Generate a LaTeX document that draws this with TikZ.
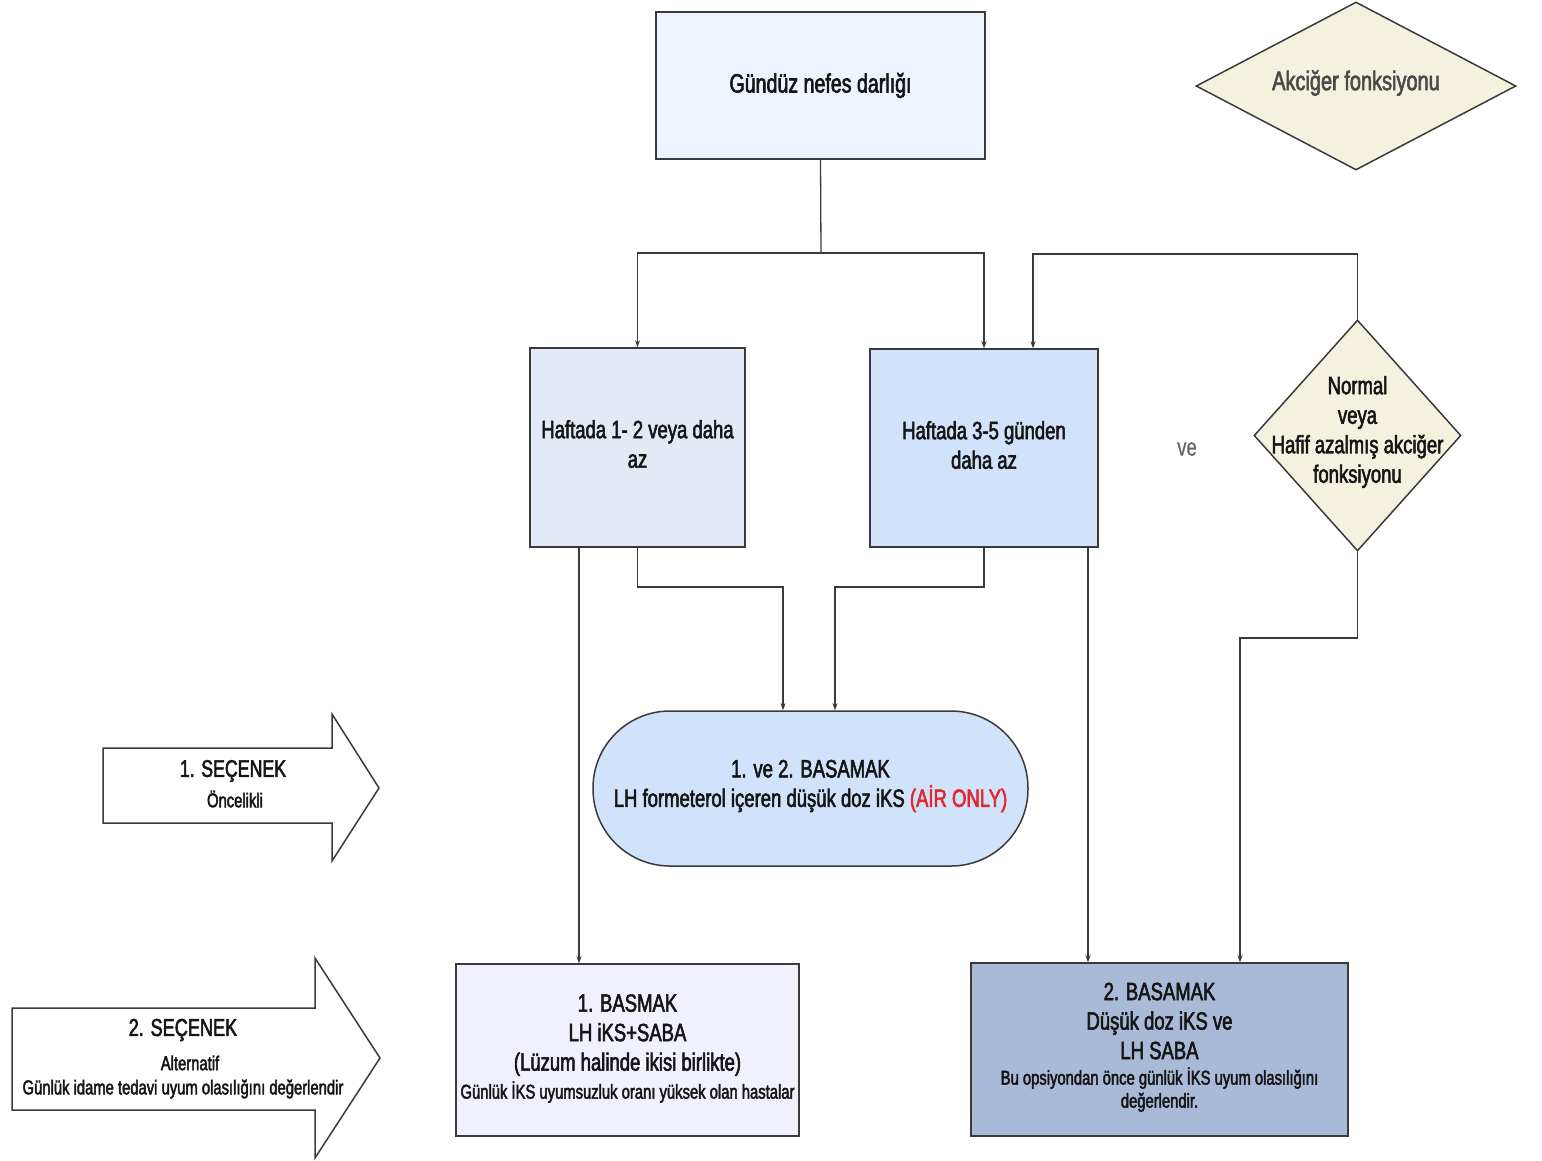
\documentclass[tikz,border=0pt]{standalone}
\usepackage{fontspec}
\setmainfont[FakeStretch=0.74,FakeBold=2.2]{Liberation Sans}
\usetikzlibrary{shapes.geometric,arrows.meta,calc}
\definecolor{lnc}{HTML}{3A3A3A}
\definecolor{ctop}{HTML}{EEF4FD}
\definecolor{cA}{HTML}{E3EAF5}
\definecolor{cB}{HTML}{D0E3FA}
\definecolor{cC}{HTML}{F0F0FF}
\definecolor{cD}{HTML}{A9B9D8}
\definecolor{cdia}{HTML}{F5F1DF}
\definecolor{cred}{HTML}{E0282E}
\definecolor{cgray}{HTML}{4A4A4A}
\definecolor{cve}{HTML}{666666}
\definecolor{ctxt}{HTML}{151515}
\newcommand{\bigf}{\fontsize{25}{29.5}\selectfont}
\newcommand{\smallf}{\fontsize{20}{23}\selectfont}
\tikzset{
  box/.style={draw=lnc, line width=1.5pt, inner sep=0pt, align=center},
  big/.style={font=\bigf, text=ctxt},
  sml/.style={font=\smallf, text=ctxt},
  conn/.style={draw=lnc, line width=1.3pt},
  arr/.style={conn, -{Stealth[length=7pt,width=5pt]}},
  dia/.style={diamond, draw=lnc, line width=1.5pt, fill=cdia, inner sep=0pt},
  bigarrow/.style={draw=lnc, line width=1.5pt, fill=white, line join=miter}
}
\begin{document}
\begin{tikzpicture}[x=1pt,y=-1pt]
\useasboundingbox (0,0) rectangle (1542,1160);

% top box
\node[box, fill=ctop, minimum width=329pt, minimum height=147pt, font=\fontsize{26.5}{30}\selectfont, text=ctxt] (top) at (820.5,85.5) {Gündüz nefes darlığı};
% diamond 1
\node[dia, minimum width=320pt, minimum height=168pt] (d1) at (1356,86) {};
\node[font=\fontsize{27}{30}\selectfont, text=cgray] (d1t) at (1356,83) {Akciğer fonksiyonu};

% second row
\node[box, fill=cA, minimum width=215pt, minimum height=199pt] (bA) at (637.5,447.5) {};
\node[big, align=center] (bAt) at (637.5,444) {Haftada 1- 2 veya daha\\az};
\node[box, fill=cB, minimum width=228pt, minimum height=198pt] (bB) at (984,448) {};
\node[big, align=center] (bBt) at (984,445) {Haftada 3-5 günden\\daha az};
\node[font=\bigf\addfontfeature{FakeBold=0.5}, text=cve] (ve) at (1187,449) {ve};
\node[dia, minimum width=207pt, minimum height=231pt] (d2) at (1357.5,435.5) {};
\node[big, align=center] (d2t) at (1357.5,432) {Normal\\veya\\Hafif azalmış akciğer\\fonksiyonu};

% oval
\node[box, fill=cB, minimum width=435pt, minimum height=155pt, rounded corners=77pt] (ov) at (810.5,788.5) {};
\node[big, align=center] (ovt) at (810.5,786) {1. ve 2. BASAMAK\\LH formeterol içeren düşük doz iKS \textcolor{cred}{(AİR ONLY)}};

% bottom boxes
\node[box, fill=cC, minimum width=343pt, minimum height=172pt] (bC) at (627.5,1050) {};
\node[big, align=center] (bCt) at (627.5,1035) {1. BASMAK\\LH iKS+SABA\\(Lüzum halinde ikisi birlikte)};
\node[sml] (bCs) at (627.5,1092) {Günlük İKS uyumsuzluk oranı yüksek olan hastalar};
\node[box, fill=cD, minimum width=377pt, minimum height=173pt] (bD) at (1159.5,1049.5) {};
\node[big, align=center] (bDt) at (1159.5,1021) {2. BASAMAK\\Düşük doz iKS ve\\LH SABA};
\node[sml, align=center] (bDs) at (1159.5,1089.5) {Bu opsiyondan önce günlük İKS uyum olasılığını\\değerlendir.};

% big arrows
\draw[bigarrow] (103,748) -- (332,748) -- (332,714) -- (379,788) -- (332,861) -- (332,823) -- (103,823) -- cycle;
\node[font=\fontsize{24}{28}\selectfont, text=ctxt] (s1a) at (233,771) {1. SEÇENEK};
\node[sml] (s1b) at (235,799) {Öncelikli};
\draw[bigarrow] (12,1008) -- (315,1008) -- (315,958) -- (380,1058) -- (315,1158) -- (315,1110) -- (12,1110) -- cycle;
\node[font=\fontsize{24.5}{28}\selectfont, text=ctxt] (s2a) at (183,1030) {2. SEÇENEK};
\node[sml] (s2b) at (190,1063) {Alternatif};
\node[sml] (s2c) at (183,1089) {Günlük idame tedavi uyum olasılığını değerlendir};

% connectors
\coordinate (j1) at (821,253);
\draw[conn] (top.south) -- (j1);
\draw[arr] (j1) -| (bA.north);
\draw[arr] (j1) -| (bB.north);
\coordinate (j2) at (1033,254);
\draw[arr] (d2.north) |- (j2) -- (j2 |- bB.north);
\coordinate (j3) at (783,587);
\coordinate (j4) at (835,587);
\draw[arr] (bA.south) |- (j3) -- (j3 |- ov.north);
\draw[arr] (bB.south) |- (j4) -- (j4 |- ov.north);
\coordinate (j5) at (579,600);
\draw[arr] (j5 |- bA.south) -- (j5 |- bC.north);
\coordinate (j6) at (1088,600);
\draw[arr] (j6 |- bB.south) -- (j6 |- bD.north);
\coordinate (j7) at (1240,638);
\draw[arr] (d2.south) |- (j7) -- (j7 |- bD.north);
\end{tikzpicture}
\end{document}
